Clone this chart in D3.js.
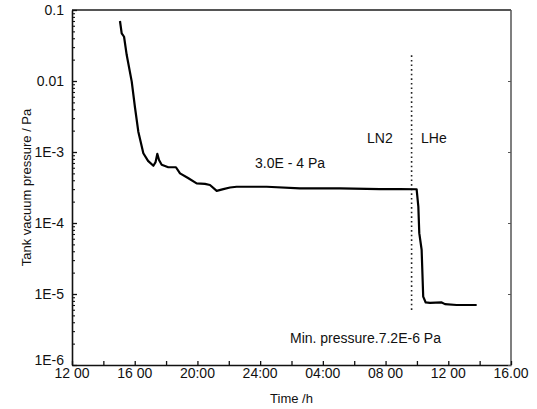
<!DOCTYPE html>
<html><head><meta charset="utf-8">
<script src="https://cdn.jsdelivr.net/npm/d3@7"></script>
<style>body{margin:0;background:#fff}svg{display:block}text{font-family:"Liberation Sans",Arial,sans-serif;fill:#111}</style>
</head><body>
<svg id="c" width="537" height="409"></svg>
<script>
// hours since 12:00 of day 1
const timeH = [3.06,3.17,3.32,3.49,3.81,4.02,4.23,4.55,4.85,5.19,5.33,5.44,5.55,5.72,6.14,6.63,6.89,7.40,7.95,8.48,8.80,9.23,9.65,10.08,10.50,12.42,14.54,17.09,19.64,20.92,21.98,22.09,22.15,22.30,22.40,22.56,22.83,23.58,23.79,24.53,25.81];
const pressure = [0.070,0.047,0.042,0.0232,0.0098,0.0042,0.00193,9.6e-4,7.5e-4,6.4e-4,7.2e-4,9.4e-4,7.7e-4,6.6e-4,6.1e-4,6.1e-4,5.0e-4,4.3e-4,3.62e-4,3.55e-4,3.43e-4,2.83e-4,3.0e-4,3.16e-4,3.24e-4,3.24e-4,3.08e-4,3.07e-4,3.0e-4,3.0e-4,2.99e-4,1.70e-4,7.2e-5,4.2e-5,9.2e-6,7.6e-6,7.5e-6,7.6e-6,7.2e-6,7.0e-6,7.0e-6];
const xTickHours = [0,4,8,12,16,20,24,28];
const xTickLabels = ["12 00","16 00","20:00","24:00","04:00","08 00","12 00","16.00"];
const yTickValues = [0.1,0.01,1e-3,1e-4,1e-5,1e-6];
const yTickLabels = ["0.1","0.01","1E-3","1E-4","1E-5","1E-6"];
const switchTime = [21.66];
const switchRange = [0.023, 5.6e-6];

const svg = d3.select("#c");
const L=72,R=511,T=10,B=365;
const x = d3.scaleLinear().domain([0,28]).range([L,R]);
const y = d3.scaleLog().domain([1e-6,0.1]).range([B,T]);

// frame
svg.append("line").attr("x1",L).attr("x2",R).attr("y1",T).attr("y2",T).attr("stroke","#555").attr("stroke-width",2);
svg.append("line").attr("x1",R).attr("x2",R).attr("y1",T).attr("y2",B).attr("stroke","#555").attr("stroke-width",1.5);

// x axis
const xAxis = d3.axisBottom(x).tickValues(d3.range(0,29,2)).tickSizeInner(-4).tickSizeOuter(0).tickFormat(()=>"");
const gx = svg.append("g").attr("transform",`translate(0,${B})`).call(xAxis);
gx.select(".domain").attr("stroke","#111").attr("stroke-width",1.6);
gx.selectAll(".tick line").attr("stroke","#111").attr("stroke-width",1.3);
svg.selectAll(".xl").data(xTickHours).enter().append("text")
  .attr("x",d=>x(d)).attr("y",378).attr("text-anchor","middle").attr("font-size",14)
  .text((d,i)=>xTickLabels[i]);

// y axis
const minor = [];
for (let e=-6;e<-1;e++) for (let k=2;k<=9;k++) minor.push(k*Math.pow(10,e));
const gy = svg.append("g").attr("transform",`translate(${L},0)`)
  .call(d3.axisLeft(y).tickValues(yTickValues).tickSizeInner(-5).tickSizeOuter(0).tickFormat(""));
gy.select(".domain").attr("stroke","#111").attr("stroke-width",1.6);
gy.selectAll(".tick line").attr("stroke","#111").attr("stroke-width",1.3);
svg.append("g").attr("transform",`translate(${L},0)`)
  .call(d3.axisLeft(y).tickValues(minor).tickSizeInner(-3).tickSizeOuter(0).tickFormat(""))
  .call(g=>{g.select(".domain").remove();g.selectAll("line").attr("stroke","#111").attr("stroke-width",1.1);});
// right minor marks
svg.append("g").attr("transform",`translate(${R},0)`)
  .call(d3.axisRight(y).tickValues(yTickValues).tickSizeInner(-3).tickSizeOuter(0).tickFormat(""))
  .call(g=>{g.select(".domain").remove();g.selectAll("line").attr("stroke","#555").attr("stroke-width",1);});
svg.selectAll(".yl").data(yTickValues).enter().append("text")
  .attr("x",64).attr("y",d=>y(d) - (d===1e-6 ? 5 : 0)).attr("dy","0.35em").attr("text-anchor","end").attr("font-size",14)
  .text((d,i)=>yTickLabels[i]);

// axis titles
svg.append("text").attr("x",(L+R)/2).attr("y",403).attr("text-anchor","middle").attr("font-size",13).text("Time /h");
svg.append("text").attr("transform",`translate(31,${(T+B)/2}) rotate(-90)`).attr("text-anchor","middle").attr("font-size",13).text("Tank vacuum pressure / Pa");

// dotted switch line
svg.append("line").attr("x1",x(switchTime[0])).attr("x2",x(switchTime[0]))
  .attr("y1",y(switchRange[0])).attr("y2",y(switchRange[1]))
  .attr("stroke","#222").attr("stroke-width",1.6).attr("stroke-dasharray","1.6,3");

// curve
const line = d3.line().x((d,i)=>x(timeH[i])).y(d=>y(d));
svg.append("path").datum(pressure).attr("d",line).attr("fill","none").attr("stroke","#000").attr("stroke-width",2.2).attr("stroke-linejoin","round");

// annotations
svg.append("text").attr("x",255).attr("y",168).attr("font-size",14).text("3.0E - 4 Pa");
svg.append("text").attr("x",367).attr("y",143).attr("font-size",14).text("LN2");
svg.append("text").attr("x",421).attr("y",143).attr("font-size",14).text("LHe");
svg.append("text").attr("x",290).attr("y",343).attr("font-size",14).text("Min. pressure.7.2E-6 Pa");
</script>
</body></html>
